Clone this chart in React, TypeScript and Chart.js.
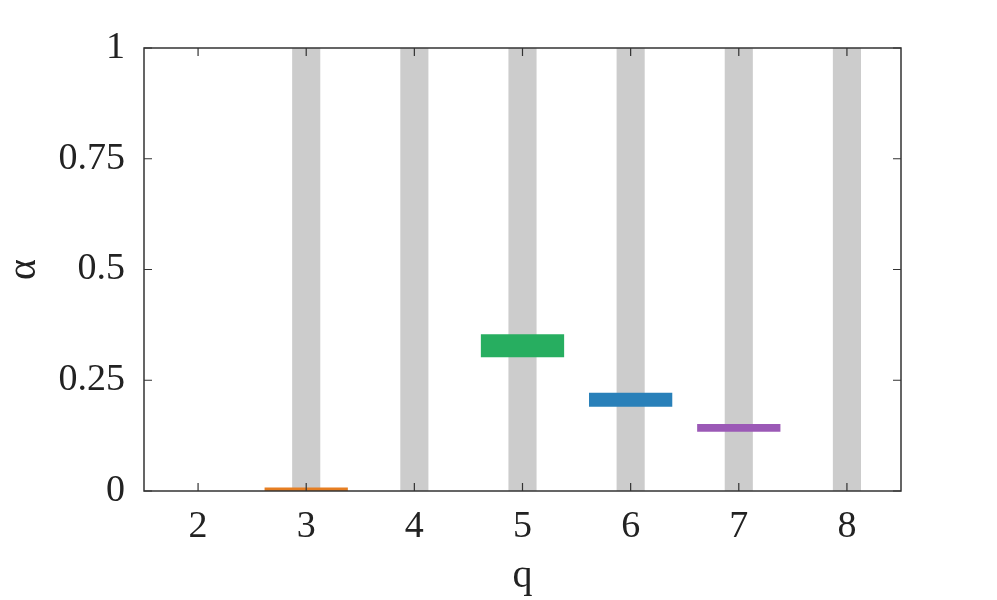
import React, { useEffect, useRef } from "react";
import { Chart, registerables } from "chart.js";

Chart.register(...registerables);

const categories = ["2", "3", "4", "5", "6", "7", "8"];
const windowLow = [null, 0, 0, 0, 0, 0, 0];
const windowHigh = [null, 1, 1, 1, 1, 1, 1];
const rangeLow = [null, 0, null, 0.302, 0.19, 0.134, null];
const rangeHigh = [null, 0.008, null, 0.354, 0.222, 0.151, null];
const rangeColors = ["#e67e22", "#e67e22", "#e67e22", "#27ae60", "#2980b9", "#9b59b6", "#9b59b6"];
const yTicks = [0, 0.25, 0.5, 0.75, 1];
const yTickLabels = ["0", "0.25", "0.5", "0.75", "1"];

const FONT = "'Liberation Serif', 'DejaVu Serif', serif";

const boxPlugin = {
  id: "boxTicks",
  afterDatasetsDraw(chart: any) {
    const { ctx, chartArea } = chart;
    const { left, right, top, bottom } = chartArea;
    const xs = chart.scales.x;
    const ys = chart.scales.y;
    const len = 8;
    ctx.save();
    ctx.strokeStyle = "#333333";
    ctx.lineWidth = 1.5;
    ctx.beginPath();
    ctx.rect(left, top, right - left, bottom - top);
    ctx.stroke();
    ctx.lineWidth = 1.2;
    ctx.beginPath();
    categories.forEach((_, i) => {
      const x = xs.getPixelForValue(i);
      ctx.moveTo(x, bottom);
      ctx.lineTo(x, bottom - len);
      ctx.moveTo(x, top);
      ctx.lineTo(x, top + len);
    });
    yTicks.forEach((v) => {
      const y = ys.getPixelForValue(v);
      ctx.moveTo(left, y);
      ctx.lineTo(left + len, y);
      ctx.moveTo(right, y);
      ctx.lineTo(right - len, y);
    });
    ctx.stroke();
    ctx.restore();
  },
};

export default function App() {
  const ref = useRef<HTMLCanvasElement>(null);
  useEffect(() => {
    if (!ref.current) return;
    const chart = new Chart(ref.current, {
      type: "bar",
      data: {
        labels: categories,
        datasets: [
          {
            label: "range",
            data: rangeLow.map((v, i) => (v === null ? null : [v, rangeHigh[i] as number])) as any,
            backgroundColor: rangeColors,
            borderWidth: 0,
            barPercentage: 0.77,
            categoryPercentage: 1,
            grouped: false,
            order: 1,
          },
          {
            label: "window",
            data: windowLow.map((v, i) => (v === null ? null : [v, windowHigh[i] as number])) as any,
            backgroundColor: "#cccccc",
            borderWidth: 0,
            barPercentage: 0.26,
            categoryPercentage: 1,
            grouped: false,
            order: 2,
          },
        ],
      },
      options: {
        animation: false,
        responsive: true,
        maintainAspectRatio: false,
        layout: { padding: { left: 0, right: 96, top: 48, bottom: 0 } },
        plugins: { legend: { display: false }, tooltip: { enabled: false } },
        scales: {
          x: {
            type: "category",
            offset: true,
            grid: { display: false },
            border: { display: false },
            ticks: { font: { family: FONT, size: 38 }, color: "#222222", padding: 5 },
            title: { display: true, text: "q", font: { family: FONT, size: 40 }, color: "#222222", padding: { top: 0, bottom: 0 } },
            afterFit(scale: any) {
              scale.height = 109;
            },
          },
          y: {
            min: 0,
            max: 1,
            grid: { display: false },
            border: { display: false },
            afterBuildTicks(scale: any) {
              scale.ticks = yTicks.map((v) => ({ value: v }));
            },
            ticks: {
              font: { family: FONT, size: 38 },
              color: "#222222",
              padding: 11,
              callback: (v: any) => {
                const i = yTicks.indexOf(Number(v));
                return i >= 0 ? yTickLabels[i] : "";
              },
            },
            title: { display: true, text: "α", font: { family: FONT, size: 40 }, color: "#222222", padding: { top: 0, bottom: 0 } },
            afterFit(scale: any) {
              scale.width = 144;
            },
          },
        },
      },
      plugins: [boxPlugin],
    });
    return () => chart.destroy();
  }, []);
  return (
    <div style={{ position: "absolute", left: 0, top: 0, width: 997, height: 600, background: "#fff" }}>
      <canvas ref={ref} />
    </div>
  );
}
